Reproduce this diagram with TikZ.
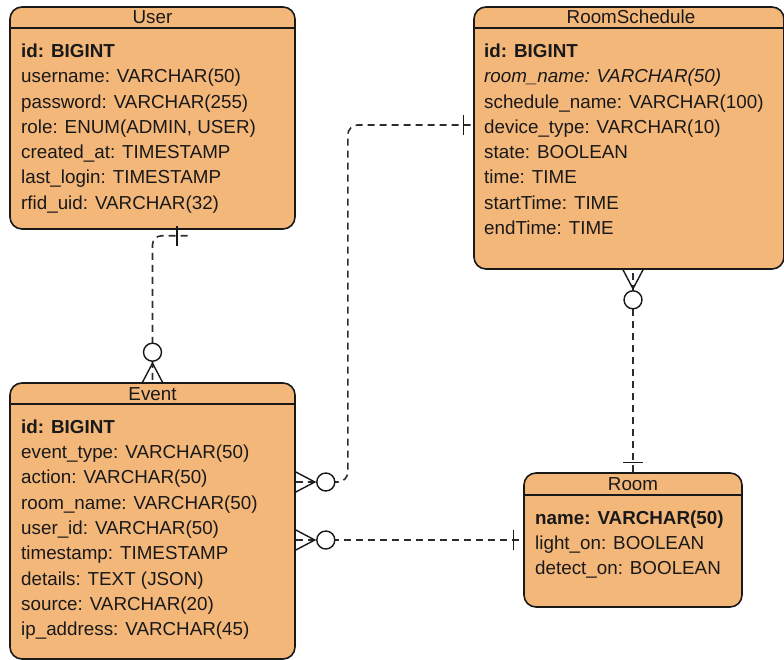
\documentclass[tikz,border=0pt]{standalone}
\usepackage{fontspec}
\setmainfont{Liberation Sans}
\usetikzlibrary{calc}
\definecolor{entfill}{RGB}{244,183,122}
\definecolor{edgegray}{RGB}{45,45,45}
\definecolor{ink}{RGB}{25,25,25}
\begin{document}
\begin{tikzpicture}[x=1pt,y=-1pt,
  entity/.style={draw=ink, line width=1.6pt, fill=entfill, rounded corners=12pt, inner sep=0pt},
  hdr/.style={anchor=base, inner sep=0pt, font=\fontsize{18.8}{23}\selectfont, text=ink},
  row/.style={anchor=base west, inner sep=0pt, font=\fontsize{18.8}{23}\selectfont, text=ink},
  keyrow/.style={row, font=\fontsize{18.8}{23}\selectfont\bfseries},
  sep/.style={draw=ink, line width=1.6pt},
  rel/.style={draw=edgegray, line width=1.6pt, dash pattern=on 7pt off 5pt},
  mk/.style={draw=ink, line width=1.4pt},
  % crow's foot with ring (zero or many), pointing along local +x away from the entity
  manyopt/.pic={
    \draw[mk] (0pt,10pt) -- (19pt,0pt) -- (0pt,-10pt);
    \draw[mk, fill=white] (30pt,0pt) circle[radius=9pt];
  },
  % single bar (exactly one), local +x away from the entity
  onemark/.pic={
    \draw[mk] (10pt,-10pt) -- (10pt,10pt);
  }
]
\useasboundingbox (0,0) rectangle (784,660);

% ---------- entities ----------
\node[entity, minimum width=285pt, minimum height=222pt] (user)  at (152.5,118) {};
\node[entity, minimum width=310pt, minimum height=262pt] (sched) at (629,138) {};
\node[entity, minimum width=285pt, minimum height=276pt] (event) at (152.5,521) {};
\node[entity, minimum width=218pt, minimum height=134pt] (room)  at (633,540) {};

% header separators
\draw[sep] ([yshift=-22pt]user.north west)  -- ([yshift=-22pt]user.north east);
\draw[sep] ([yshift=-22pt]sched.north west) -- ([yshift=-22pt]sched.north east);
\draw[sep] ([yshift=-22pt]event.north west) -- ([yshift=-22pt]event.north east);
\draw[sep] ([yshift=-23pt]room.north west)  -- ([yshift=-23pt]room.north east);

% ---------- User ----------
\node[hdr] (userT) at (152.5,24) {User};
\node[keyrow] (u1) at (21,57.5) {id: BIGINT};
\node[row] (u2) at (21,82.8)  {username: VARCHAR(50)};
\node[row] (u3) at (21,108.1) {password: VARCHAR(255)};
\node[row] (u4) at (21,133.4) {role: ENUM(ADMIN, USER)};
\node[row] (u5) at (21,158.7) {created\_at: TIMESTAMP};
\node[row] (u6) at (21,184.0) {last\_login: TIMESTAMP};
\node[row] (u7) at (21,209.3) {rfid\_uid: VARCHAR(32)};

% ---------- RoomSchedule ----------
\node[hdr] (schedT) at (631,24) {RoomSchedule};
\node[keyrow] (s1) at (484,57.5) {id: BIGINT};
\node[row] (s2) at (484,82.8)  {\itshape room\_name: VARCHAR(50)};
\node[row] (s3) at (484,108.1) {schedule\_name: VARCHAR(100)};
\node[row] (s4) at (484,133.4) {device\_type: VARCHAR(10)};
\node[row] (s5) at (484,158.7) {state: BOOLEAN};
\node[row] (s6) at (484,184.0) {time: TIME};
\node[row] (s7) at (484,209.3) {startTime: TIME};
\node[row] (s8) at (484,234.6) {endTime: TIME};

% ---------- Event ----------
\node[hdr] (eventT) at (152.5,400.5) {Event};
\node[keyrow] (e1) at (21,433.3) {id: BIGINT};
\node[row] (e2) at (21,458.6) {event\_type: VARCHAR(50)};
\node[row] (e3) at (21,483.9) {action: VARCHAR(50)};
\node[row] (e4) at (21,509.2) {room\_name: VARCHAR(50)};
\node[row] (e5) at (21,534.5) {user\_id: VARCHAR(50)};
\node[row] (e6) at (21,559.8) {timestamp: TIMESTAMP};
\node[row] (e7) at (21,585.1) {details: TEXT (JSON)};
\node[row] (e8) at (21,610.4) {source: VARCHAR(20)};
\node[row] (e9) at (21,635.7) {ip\_address: VARCHAR(45)};

% ---------- Room ----------
\node[hdr] (roomT) at (633,490) {Room};
\node[keyrow] (r1) at (535,524) {name: VARCHAR(50)};
\node[row] (r2) at (535,549.3) {light\_on: BOOLEAN};
\node[row] (r3) at (535,574.6) {detect\_on: BOOLEAN};

% ---------- relationships ----------
% User 1 -- 0..* Event
\coordinate (ustub) at ([xshift=35pt,yshift=-6pt]user.south);
\draw[rel, rounded corners=9pt] (ustub) -| (event.north);
\draw[mk] ([xshift=-10.5pt,yshift=10pt]ustub) -- ([xshift=-10.5pt,yshift=-10pt]ustub);
\pic[rotate=90] at (event.north) {manyopt};

% RoomSchedule 1 -- 0..* Event
\draw[rel, rounded corners=10pt] ([yshift=39pt]event.east) -- ++(52pt,0pt) |- ([yshift=13pt]sched.west);
\pic at ([yshift=39pt]event.east) {manyopt};
\pic[rotate=180] at ([yshift=13pt]sched.west) {onemark};

% Room 1 -- 0..* Event
\draw[rel] ([yshift=-19pt]event.east) -- (room.west);
\pic at ([yshift=-19pt]event.east) {manyopt};
\pic[rotate=180] at (room.west) {onemark};

% Room 1 -- 0..* RoomSchedule
\draw[rel] (room.north) -- (room.north |- sched.south);
\pic[rotate=-90] at (room.north |- sched.south) {manyopt};
\pic[rotate=90] at (room.north) {onemark};
\end{tikzpicture}
\end{document}
